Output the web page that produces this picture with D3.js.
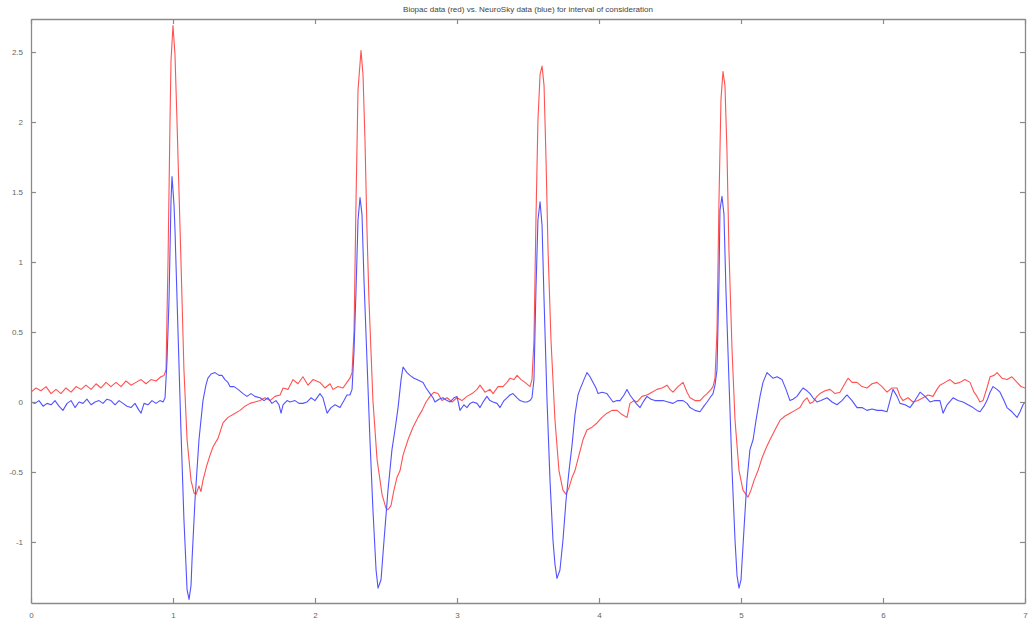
<!DOCTYPE html>
<html>
<head>
<meta charset="utf-8">
<script src="https://cdn.jsdelivr.net/npm/d3@7"></script>
<style>
  html, body { margin: 0; padding: 0; background: #fff; }
  svg { display: block; }
  text { font-family: "Liberation Sans", "DejaVu Sans", sans-serif; }
</style>
</head>
<body>
<svg id="chart" width="1028" height="622"></svg>
<script>
const title = "Biopac data (red) vs. NeuroSky data (blue) for interval of consideration";
const xTicks = [0, 1, 2, 3, 4, 5, 6, 7];
const yTicks = [-1, -0.5, 0, 0.5, 1, 1.5, 2, 2.5];
const xLimits = [0, 7];
const yLimits = [-1.436, 2.736];

// Biopac (red)
const redX = [0,0.035,0.070,0.106,0.141,0.176,0.211,0.246,0.282,0.317,0.352,0.387,0.423,0.458,0.493,0.528,0.563,0.599,0.634,0.669,0.704,0.739,0.775,0.810,0.845,0.880,0.915,0.937,
0.951,0.965,0.979,0.986,1.000,1.014,1.028,1.042,1.056,1.077,1.099,1.127,1.148,1.162,1.183,1.197,1.211,1.239,1.261,1.282,1.317,1.352,1.387,1.423,1.472,1.507,1.542,1.577,1.613,1.648,1.683,1.718,1.754,1.775,1.810,1.845,1.880,1.915,1.951,1.986,2.035,2.070,2.106,2.127,2.162,2.197,2.225,2.246,2.261,
2.275,2.289,2.303,2.324,2.338,2.352,2.366,2.380,2.408,2.437,2.472,2.500,2.514,2.535,2.556,2.577,2.599,2.620,2.655,2.690,2.725,2.754,2.782,2.810,2.838,2.866,2.894,2.930,2.965,3.000,3.035,3.070,3.106,3.141,3.162,3.197,3.232,3.254,3.289,3.324,3.352,3.373,3.401,3.423,3.451,3.479,3.514,3.528,
3.542,3.556,3.570,3.585,3.599,3.613,3.627,3.641,3.662,3.690,3.718,3.746,3.768,3.789,3.810,3.831,3.859,3.887,3.915,3.951,3.986,4.021,4.056,4.092,4.127,4.162,4.197,4.218,4.246,4.268,4.303,4.338,4.373,4.408,4.444,4.479,4.500,4.521,4.556,4.592,4.620,4.641,4.676,4.711,4.739,4.761,4.789,4.803,4.817,
4.831,4.845,4.859,4.873,4.887,4.901,4.915,4.937,4.958,4.986,5.014,5.035,5.049,5.070,5.092,5.120,5.148,5.176,5.204,5.239,5.275,5.310,5.345,5.380,5.415,5.444,5.465,5.486,5.507,5.535,5.556,5.592,5.627,5.662,5.697,5.725,5.754,5.782,5.817,5.852,5.887,5.923,5.958,5.993,6.028,6.063,6.099,6.120,6.141,6.176,6.211,6.246,6.282,6.317,6.352,6.380,6.401,6.437,6.472,6.507,6.542,6.577,6.613,6.641,6.662,6.683,6.704,6.732,6.754,6.782,6.803,6.838,6.873,6.908,6.944,6.972,7.000];
const redY = [0.07,0.10,0.08,0.11,0.06,0.09,0.06,0.10,0.07,0.11,0.09,0.12,0.09,0.13,0.10,0.14,0.11,0.14,0.11,0.15,0.12,0.14,0.16,0.13,0.16,0.15,0.18,0.19,
0.23,1.01,2.01,2.44,2.69,2.48,2.01,1.51,1.01,0.23,-0.27,-0.56,-0.65,-0.66,-0.60,-0.64,-0.56,-0.45,-0.38,-0.32,-0.26,-0.15,-0.11,-0.09,-0.06,-0.03,-0.01,0,0.01,0.03,0.01,0.04,0.05,0.10,0.09,0.16,0.13,0.18,0.12,0.16,0.14,0.10,0.13,0.09,0.11,0.10,0.14,0.17,0.21,
0.51,1.44,2.23,2.51,2.34,1.87,1.23,0.73,0.01,-0.41,-0.66,-0.76,-0.77,-0.74,-0.63,-0.54,-0.49,-0.38,-0.27,-0.18,-0.11,-0.06,0,0.04,0.07,0.06,0.01,0.03,0,0.03,0.01,0.04,0.06,0.09,0.12,0.07,0.09,0.06,0.11,0.11,0.14,0.17,0.16,0.19,0.16,0.14,0.11,0.16,
0.44,1.30,2.01,2.34,2.40,2.26,1.73,1.09,0.44,-0.13,-0.49,-0.63,-0.66,-0.61,-0.54,-0.49,-0.38,-0.27,-0.20,-0.18,-0.15,-0.11,-0.08,-0.06,-0.06,-0.09,-0.11,-0.01,0.01,0,0.04,0.05,0.07,0.09,0.10,0.12,0.09,0.07,0.11,0.14,0.07,0.03,0.01,0.01,0.04,0.06,0.09,0.11,0.17,
0.51,1.44,2.16,2.36,2.26,1.80,1.09,0.37,-0.13,-0.49,-0.63,-0.66,-0.68,-0.63,-0.56,-0.49,-0.40,-0.33,-0.27,-0.20,-0.13,-0.10,-0.08,-0.06,-0.04,0.01,0.03,-0.01,0,0.04,0.06,0.08,0.09,0.06,0.07,0.12,0.17,0.14,0.14,0.11,0.10,0.13,0.14,0.11,0.07,0.10,0.10,0.04,0.01,0.03,0,0.01,0.03,0.05,0.04,0.09,0.12,0.14,0.16,0.13,0.14,0.16,0.14,0.07,0.04,0,0.01,0.10,0.18,0.19,0.21,0.17,0.16,0.18,0.14,0.11,0.10];

// NeuroSky (blue)
const blueX = [0,0.028,0.056,0.085,0.113,0.141,0.169,0.197,0.225,0.254,0.282,0.310,0.338,0.366,0.394,0.423,0.451,0.479,0.507,0.535,0.563,0.592,0.620,0.648,0.676,0.704,0.732,0.761,0.775,0.796,0.824,0.852,0.880,0.908,0.930,0.944,
0.958,0.972,0.986,0.993,1.007,1.014,1.035,1.056,1.077,1.099,1.113,1.127,1.134,1.155,1.183,1.211,1.232,1.246,1.268,1.296,1.324,1.345,1.366,1.387,1.401,1.430,1.458,1.493,1.521,1.549,1.577,1.613,1.641,1.669,1.697,1.725,1.746,1.761,1.775,1.803,1.824,1.859,1.887,1.915,1.944,1.972,2.000,2.035,2.056,2.085,2.113,2.141,2.176,2.204,2.225,2.246,2.261,
2.275,2.289,2.303,2.317,2.331,2.345,2.366,2.387,2.408,2.430,2.444,2.465,2.486,2.514,2.542,2.563,2.585,2.606,2.620,2.648,2.669,2.697,2.718,2.739,2.761,2.782,2.810,2.831,2.845,2.873,2.901,2.930,2.951,2.979,3.000,3.021,3.049,3.070,3.092,3.113,3.141,3.162,3.190,3.211,3.232,3.254,3.282,3.303,3.331,3.352,3.373,3.394,3.423,3.444,3.472,3.493,3.514,3.528,3.542,
3.556,3.570,3.585,3.599,3.613,3.634,3.655,3.676,3.690,3.704,3.725,3.746,3.768,3.789,3.810,3.831,3.852,3.866,3.894,3.915,3.937,3.958,3.979,3.993,4.021,4.056,4.077,4.099,4.127,4.148,4.176,4.197,4.218,4.232,4.261,4.289,4.317,4.338,4.366,4.394,4.423,4.451,4.486,4.521,4.556,4.592,4.620,4.641,4.676,4.711,4.739,4.761,4.782,4.803,4.817,4.831,
4.845,4.852,4.866,4.880,4.894,4.915,4.937,4.958,4.972,4.986,5.000,5.021,5.042,5.063,5.085,5.106,5.134,5.155,5.183,5.204,5.225,5.254,5.289,5.317,5.345,5.366,5.394,5.415,5.437,5.465,5.486,5.507,5.535,5.563,5.606,5.641,5.676,5.711,5.746,5.782,5.817,5.852,5.887,5.923,5.958,5.993,6.028,6.049,6.070,6.099,6.120,6.155,6.190,6.225,6.261,6.296,6.331,6.366,6.401,6.423,6.451,6.493,6.528,6.563,6.599,6.634,6.662,6.683,6.711,6.732,6.754,6.775,6.803,6.824,6.852,6.873,6.908,6.944,6.965,6.986,7.000];
const blueY = [0,-0.01,0.01,-0.03,-0.01,-0.02,0.01,-0.03,-0.06,-0.01,0.01,-0.04,0,-0.01,0.02,-0.02,0,0.01,-0.01,0.02,0.01,-0.02,0.01,-0.01,-0.03,-0.04,-0.01,-0.06,-0.08,-0.01,-0.02,0.01,-0.01,0.01,0,0.03,
0.30,0.73,1.44,1.61,1.41,1.23,0.51,-0.20,-0.84,-1.34,-1.41,-1.31,-1.13,-0.70,-0.27,0.01,0.12,0.17,0.20,0.21,0.19,0.19,0.16,0.14,0.11,0.11,0.09,0.06,0.04,0.06,0.04,0.03,0.01,0.03,-0.01,0.01,-0.02,-0.08,-0.02,0.01,0,0.01,-0.01,-0.01,0,0.03,0.01,0.06,0.03,-0.08,-0.04,-0.02,-0.04,0.01,0.05,0.05,0.09,
0.37,0.80,1.30,1.46,1.34,0.87,0.30,-0.27,-0.77,-1.20,-1.33,-1.27,-0.99,-0.63,-0.34,-0.20,-0.04,0.16,0.25,0.21,0.19,0.17,0.16,0.15,0.14,0.10,0.06,0.03,0,0.02,0.03,0.01,0,0.03,0.04,-0.06,-0.02,-0.04,-0.01,0,-0.01,-0.04,0.01,0.04,0.01,0,-0.01,-0.04,0.01,0.03,0.05,0.06,0.03,0.01,0,0,0.01,0.03,0.16,
0.80,1.30,1.43,1.26,0.73,0.01,-0.56,-0.99,-1.16,-1.26,-1.20,-0.99,-0.70,-0.49,-0.31,-0.09,0.05,0.09,0.16,0.21,0.18,0.14,0.10,0.06,0.07,0.06,0.03,0,0.01,0.01,0.05,0.09,0.05,0.03,-0.01,-0.04,0.01,0.04,0.02,0.01,0.01,0.01,0,-0.01,0.01,0.01,-0.01,-0.04,-0.06,-0.07,-0.03,0,0.03,0.06,0.12,0.23,
0.87,1.37,1.47,1.34,0.80,0.16,-0.49,-0.99,-1.24,-1.33,-1.27,-0.91,-0.56,-0.34,-0.27,-0.13,0.04,0.14,0.21,0.19,0.17,0.18,0.16,0.09,0.01,0.02,0.04,0.07,0.10,0.08,0.06,0.03,0,0.01,0.03,0,-0.02,0.01,0.05,0.01,-0.04,-0.04,-0.06,-0.05,-0.06,-0.06,-0.07,0.01,0.09,0.04,-0.01,-0.02,-0.04,0.01,0.07,0.04,0,0.01,0.01,-0.08,-0.02,0.03,0.01,0,-0.02,-0.04,-0.06,-0.07,-0.03,0.01,0.07,0.11,0.09,0.07,0.01,-0.04,-0.07,-0.11,-0.07,-0.02,0];

const W = 1028, H = 622;
const m = { left: 31, right: 3, top: 19, bottom: 19 };
const svg = d3.select("#chart");
const x = d3.scaleLinear().domain(xLimits).range([m.left, W - m.right]);
const y = d3.scaleLinear().domain(yLimits).range([H - m.bottom, m.top]);

const axisColor = "#8a8a8a";
const labelColor = "#666";

// lines
const line = d3.line().x(d => x(d[0])).y(d => y(d[1]));
const redData = redX.map((v, i) => [v, redY[i]]);
const blueData = blueX.map((v, i) => [v, blueY[i]]);

svg.append("clipPath").attr("id", "clip").append("rect")
  .attr("x", x(xLimits[0])).attr("y", y(yLimits[1]))
  .attr("width", x(xLimits[1]) - x(xLimits[0])).attr("height", y(yLimits[0]) - y(yLimits[1]));

const plot = svg.append("g").attr("clip-path", "url(#clip)");
plot.append("path").datum(redData).attr("d", line)
  .attr("fill", "none").attr("stroke", "#ff5252").attr("stroke-width", 1.1).attr("stroke-linejoin", "round");
plot.append("path").datum(blueData).attr("d", line)
  .attr("fill", "none").attr("stroke", "#5252ff").attr("stroke-width", 1.1).attr("stroke-linejoin", "round");

// axes (MATLAB style: inward ticks, box on)
const tl = 5;
function styleAxis(g) {
  g.select(".domain").attr("stroke", axisColor).attr("stroke-width", 1.3);
  g.selectAll(".tick line").attr("stroke", axisColor).attr("stroke-width", 1.2);
  g.selectAll(".tick text").attr("fill", labelColor).style("font-size", "8px");
}
svg.append("g").attr("transform", `translate(0,${y(yLimits[0])})`)
  .call(d3.axisBottom(x).tickValues(xTicks).tickSizeInner(-tl).tickSizeOuter(0).tickPadding(9).tickFormat(d3.format("d")))
  .call(styleAxis);
svg.append("g").attr("transform", `translate(0,${y(yLimits[1])})`)
  .call(d3.axisTop(x).tickValues(xTicks).tickSizeInner(-tl).tickSizeOuter(0).tickFormat(""))
  .call(styleAxis);
svg.append("g").attr("transform", `translate(${x(xLimits[0])},0)`)
  .call(d3.axisLeft(y).tickValues(yTicks).tickSizeInner(-tl).tickSizeOuter(0).tickPadding(8).tickFormat(d => String(d)))
  .call(styleAxis);
svg.append("g").attr("transform", `translate(${x(xLimits[1])},0)`)
  .call(d3.axisRight(y).tickValues(yTicks).tickSizeInner(-tl).tickSizeOuter(0).tickFormat(""))
  .call(styleAxis);

// title
svg.append("text")
  .attr("x", (x(xLimits[0]) + x(xLimits[1])) / 2).attr("y", 12)
  .attr("text-anchor", "middle").attr("fill", "#444").style("font-size", "8px")
  .text(title);
</script>
</body>
</html>
